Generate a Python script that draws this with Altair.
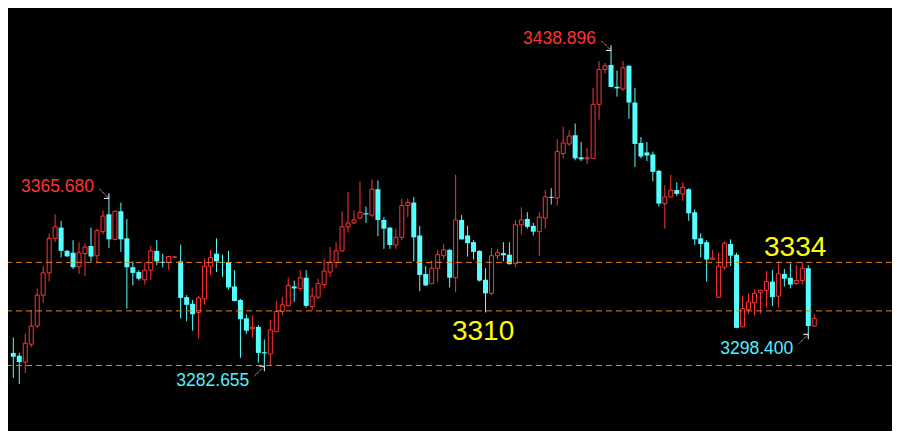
import altair as alt
import pandas as pd

# ---- candle data (price units) ----
opens = [
    3289.2, 3287.8, 3284.7, 3293.5, 3302.5, 3317.8, 3328.8, 3345.9, 3351.2, 3339.7,
    3338.8, 3331.8, 3338.4, 3342.1, 3337.3, 3349.2, 3357.8, 3345.4, 3359.3, 3345.9,
    3331.6, 3329.2, 3325.4, 3330.2, 3339.7, 3334.3, 3334.0, 3336.6, 3334.5, 3316.8,
    3313.5, 3309.2, 3315.9, 3332.1, 3338.3, 3334.1, 3334.0, 3322.1, 3315.4, 3306.3,
    3301.2, 3302.1, 3289.5, 3288.7, 3299.7, 3309.7, 3312.5, 3322.1, 3321.1, 3326.4,
    3312.1, 3316.8, 3323.0, 3329.2, 3334.0, 3339.7, 3351.6, 3353.5, 3355.9, 3358.3,
    3357.4, 3370.2, 3355.0, 3351.2, 3342.6, 3346.4, 3362.1, 3363.6, 3347.3, 3328.3,
    3323.5, 3331.1, 3337.3, 3340.2, 3326.4, 3355.0, 3347.3, 3344.0, 3339.7, 3325.4,
    3318.7, 3337.3, 3338.6, 3337.8, 3333.5, 3352.6, 3355.5, 3352.1, 3349.2, 3355.9,
    3366.4, 3365.9, 3387.9, 3392.6, 3396.9, 3386.0, 3385.2, 3385.5, 3412.2, 3429.4,
    3431.7, 3420.9, 3419.8, 3431.3, 3413.1, 3393.1, 3388.4, 3387.4, 3379.3, 3363.1,
    3366.4, 3369.8, 3367.9, 3370.2, 3358.8, 3345.9, 3344.0, 3335.6, 3316.8, 3331.6,
    3343.1, 3337.8, 3302.1, 3310.6, 3314.0, 3319.2, 3320.2, 3324.5, 3317.3, 3328.3,
    3326.4, 3323.5, 3325.0, 3331.1, 3302.5,
]
highs = [
    3296.8, 3289.2, 3298.7, 3310.2, 3321.1, 3332.1, 3348.3, 3357.8, 3354.5, 3340.2,
    3345.0, 3344.0, 3343.5, 3351.2, 3350.7, 3359.7, 3365.68, 3359.7, 3363.6, 3355.5,
    3334.5, 3330.2, 3334.0, 3342.1, 3345.0, 3338.3, 3337.3, 3337.0, 3342.8, 3317.8,
    3315.4, 3317.3, 3335.9, 3340.2, 3345.9, 3337.8, 3339.7, 3330.2, 3315.9, 3308.3,
    3307.8, 3303.0, 3295.9, 3305.4, 3314.9, 3316.8, 3326.4, 3325.0, 3330.2, 3330.2,
    3321.6, 3325.9, 3335.9, 3341.6, 3344.0, 3359.3, 3368.8, 3359.7, 3374.1, 3361.7,
    3375.0, 3374.5, 3356.4, 3351.4, 3350.7, 3365.5, 3365.5, 3366.4, 3352.1, 3332.1,
    3335.0, 3340.2, 3343.1, 3340.7, 3377.4, 3357.4, 3352.1, 3345.0, 3339.9, 3331.1,
    3341.2, 3340.7, 3344.0, 3344.0, 3355.0, 3361.2, 3358.8, 3353.5, 3358.8, 3369.8,
    3370.7, 3395.0, 3401.2, 3399.3, 3402.7, 3393.6, 3390.7, 3420.3, 3433.6, 3432.7,
    3438.896, 3428.9, 3433.6, 3431.5, 3420.3, 3396.0, 3393.6, 3388.8, 3379.8, 3372.1,
    3377.4, 3373.6, 3373.6, 3370.7, 3360.2, 3348.3, 3345.0, 3340.2, 3338.8, 3344.5,
    3345.4, 3338.8, 3317.3, 3318.7, 3320.6, 3320.6, 3329.7, 3330.2, 3334.5, 3330.7,
    3333.5, 3332.6, 3334.0, 3332.6, 3308.3,
]
lows = [
    3276.8, 3273.9, 3279.2, 3292.0, 3301.6, 3314.0, 3324.5, 3344.0, 3336.4, 3336.7,
    3330.7, 3328.3, 3327.3, 3334.5, 3333.5, 3347.8, 3341.2, 3345.0, 3339.2, 3311.1,
    3322.6, 3325.0, 3323.0, 3325.4, 3332.6, 3331.6, 3330.2, 3336.3, 3306.3, 3304.9,
    3300.2, 3296.3, 3313.0, 3327.8, 3329.2, 3326.9, 3320.6, 3314.7, 3286.8, 3298.7,
    3296.8, 3284.4, 3282.655, 3283.0, 3299.5, 3307.8, 3312.3, 3314.4, 3319.7, 3311.6,
    3310.2, 3315.9, 3321.1, 3326.9, 3331.1, 3339.2, 3348.8, 3353.1, 3355.5, 3353.5,
    3356.4, 3346.9, 3340.7, 3340.7, 3340.7, 3345.0, 3356.4, 3334.5, 3319.7, 3322.4,
    3323.3, 3324.5, 3335.4, 3321.6, 3319.2, 3345.2, 3336.9, 3335.4, 3324.5, 3309.2,
    3317.8, 3335.4, 3334.5, 3333.0, 3331.6, 3347.8, 3350.7, 3347.3, 3337.3, 3350.7,
    3362.6, 3362.1, 3385.5, 3391.7, 3384.5, 3384.1, 3382.6, 3385.3, 3404.6, 3427.4,
    3420.6, 3416.0, 3418.9, 3405.0, 3381.2, 3385.5, 3384.1, 3374.1, 3361.7, 3350.7,
    3366.2, 3366.9, 3364.5, 3354.5, 3342.6, 3336.4, 3324.5, 3335.4, 3316.6, 3330.2,
    3332.1, 3301.4, 3301.9, 3308.7, 3307.8, 3308.7, 3311.6, 3312.5, 3311.6, 3322.1,
    3321.1, 3323.0, 3323.0, 3298.4, 3302.4,
]
closes = [
    3287.3, 3284.7, 3294.0, 3302.5, 3317.8, 3328.8, 3345.9, 3351.6, 3339.7, 3337.0,
    3331.6, 3338.8, 3341.6, 3336.9, 3349.7, 3356.9, 3345.4, 3359.3, 3345.4, 3331.6,
    3328.8, 3325.9, 3330.2, 3339.7, 3334.5, 3333.8, 3336.9, 3336.7, 3316.4, 3313.0,
    3308.3, 3316.4, 3332.1, 3336.4, 3334.5, 3333.7, 3321.6, 3314.9, 3305.9, 3300.2,
    3301.9, 3289.2, 3288.9, 3300.6, 3309.7, 3313.0, 3322.6, 3321.1, 3326.4, 3312.5,
    3317.3, 3323.5, 3329.7, 3334.0, 3339.7, 3351.6, 3353.5, 3355.0, 3358.8, 3357.7,
    3370.2, 3355.0, 3350.7, 3342.6, 3346.4, 3362.1, 3363.6, 3346.4, 3327.8, 3322.6,
    3331.1, 3337.8, 3340.2, 3326.4, 3355.0, 3345.4, 3343.5, 3339.2, 3325.0, 3318.7,
    3337.3, 3338.8, 3337.5, 3333.1, 3352.6, 3355.0, 3351.6, 3349.2, 3356.4, 3366.4,
    3365.9, 3388.8, 3393.1, 3396.5, 3385.5, 3385.0, 3385.8, 3412.2, 3429.4, 3431.3,
    3420.8, 3420.1, 3430.3, 3413.1, 3392.6, 3386.4, 3386.9, 3378.8, 3363.1, 3366.4,
    3369.8, 3367.9, 3371.2, 3358.3, 3345.4, 3343.1, 3335.4, 3336.2, 3332.1, 3343.5,
    3337.3, 3301.6, 3311.1, 3314.4, 3318.7, 3320.2, 3324.5, 3316.8, 3328.3, 3325.9,
    3323.0, 3325.0, 3331.1, 3302.5, 3306.3,
]

# horizontal levels and their yellow labels
level_prices = [3334, 3310, 3283]
level_label_text = ["3310", "3334"]
level_label_price = [3310, 3334]
level_label_index = [78.6, 130.8]

# high / low annotations
ann_index = [16, 100, 42, 133]
ann_value = [3365.680, 3438.896, 3282.655, 3298.400]
ann_kind = ["high", "high", "low", "low"]

RED = "#FF3333"
CYAN = "#55FFFF"
ORANGE = "#E8801E"
YELLOW = "#FFFF00"
FONT = "Liberation Sans"

df = pd.DataFrame({
    "i": list(range(len(opens))),
    "open": opens, "high": highs, "low": lows, "close": closes,
})
df["dir"] = ["up" if c >= o else "down" for o, c in zip(opens, closes)]

levels_df = pd.DataFrame({"p": level_prices})
lab_df = pd.DataFrame({"i": level_label_index, "p": level_label_price, "t": level_label_text})
ann_df = pd.DataFrame({"i": ann_index, "v": ann_value, "kind": ann_kind})
ann_df["t"] = [f"{v:.3f}" for v in ann_value]

xs = alt.Scale(domain=[-0.05, 146.17], nice=False, zero=False)
ys = alt.Scale(domain=[3250.57, 3459.87], nice=False, zero=False)

base = alt.Chart(df)
X = alt.X("i:Q", scale=xs, axis=None)

wick_up = base.transform_filter(alt.datum.dir == "up").mark_rule(color=RED, strokeWidth=1).encode(
    x=X, y=alt.Y("low:Q", scale=ys, axis=None), y2="high:Q")
wick_dn = base.transform_filter(alt.datum.dir == "down").mark_rule(color=CYAN, strokeWidth=1).encode(
    x=X, y=alt.Y("low:Q", scale=ys, axis=None), y2="high:Q")
body_dn = base.transform_filter(alt.datum.dir == "down").mark_bar(size=5, color=CYAN).encode(
    x=X, y=alt.Y("open:Q", scale=ys, axis=None), y2="close:Q")
body_up = base.transform_filter(alt.datum.dir == "up").mark_bar(
    size=4, fill="black", stroke=RED, strokeWidth=1).encode(
    x=X, y=alt.Y("open:Q", scale=ys, axis=None), y2="close:Q")

levels = alt.Chart(levels_df).mark_rule(color=ORANGE, strokeDash=[6, 4], strokeWidth=1).encode(
    y=alt.Y("p:Q", scale=ys, axis=None))

lab_3310 = alt.Chart(lab_df).transform_filter(alt.datum.t == "3310").mark_text(
    color=YELLOW, font=FONT, fontSize=28, align="center", baseline="alphabetic", dy=29).encode(
    x=alt.X("i:Q", scale=xs, axis=None), y=alt.Y("p:Q", scale=ys, axis=None), text="t:N")
lab_3334 = alt.Chart(lab_df).transform_filter(alt.datum.t == "3334").mark_text(
    color=YELLOW, font=FONT, fontSize=28, align="center", baseline="alphabetic", dy=-6).encode(
    x=alt.X("i:Q", scale=xs, axis=None), y=alt.Y("p:Q", scale=ys, axis=None), text="t:N")

ann = alt.Chart(ann_df)
AX = alt.X("i:Q", scale=xs, axis=None)
AY = alt.Y("v:Q", scale=ys, axis=None)
hi = ann.transform_filter(alt.datum.kind == "high")
lo = ann.transform_filter(alt.datum.kind == "low")

shaft_hi = hi.mark_rule(color="white", strokeDash=[1, 1], strokeWidth=1, x2Offset=-10, y2Offset=-10).encode(
    x=AX, y=AY, x2="i:Q", y2="v:Q")
shaft_lo = lo.mark_rule(color="white", strokeDash=[1, 1], strokeWidth=1, x2Offset=-10, y2Offset=10).encode(
    x=AX, y=AY, x2="i:Q", y2="v:Q")
head_h = ann.mark_rule(color="white", strokeWidth=1, x2Offset=-5).encode(
    x=AX, y=AY, x2="i:Q", y2="v:Q")
head_v_hi = hi.mark_rule(color="white", strokeWidth=1, y2Offset=-5).encode(
    x=AX, y=AY, x2="i:Q", y2="v:Q")
head_v_lo = lo.mark_rule(color="white", strokeWidth=1, y2Offset=5).encode(
    x=AX, y=AY, x2="i:Q", y2="v:Q")

text_hi = hi.mark_text(color=RED, font=FONT, fontSize=17.5, align="right", baseline="alphabetic",
                       dx=-15, dy=-6).encode(x=AX, y=AY, text="t:N")
text_lo = lo.mark_text(color="#55EEFF", font=FONT, fontSize=17.5, align="right", baseline="alphabetic",
                       dx=-15, dy=20).encode(x=AX, y=AY, text="t:N")

chart = alt.layer(
    wick_up, wick_dn, body_dn, body_up, levels,
    shaft_hi, shaft_lo, head_h, head_v_hi, head_v_lo,
    text_hi, text_lo, lab_3310, lab_3334,
).properties(
    width=884, height=423, background="black", padding=0, autosize="none"
).configure_view(strokeWidth=0)

chart.save("out.html", embed_options={"renderer": "svg", "actions": False})
